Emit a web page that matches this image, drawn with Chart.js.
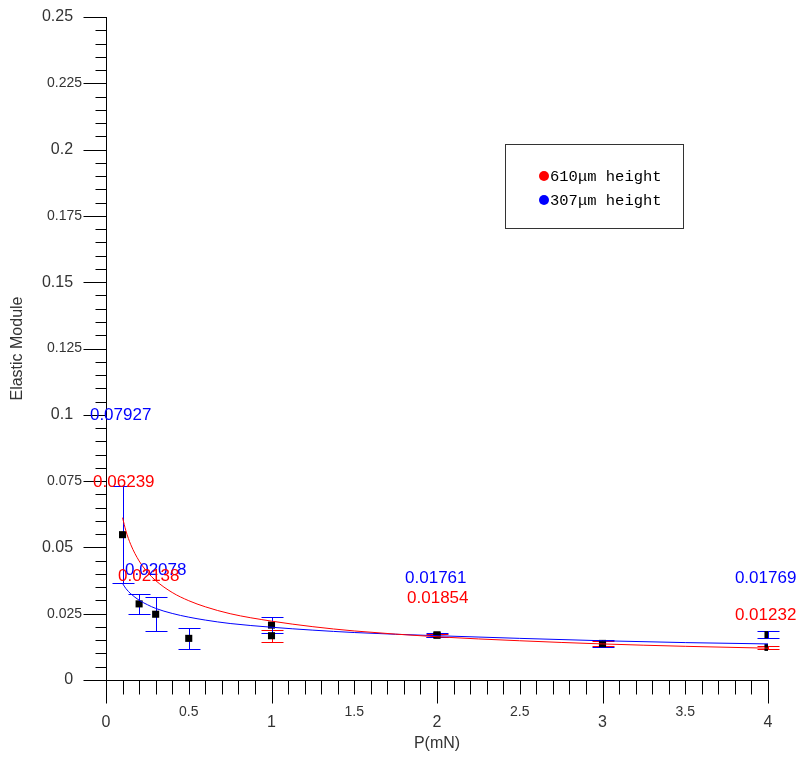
<!DOCTYPE html>
<html>
<head>
<meta charset="utf-8">
<script src="https://cdn.jsdelivr.net/npm/chart.js@4/dist/chart.umd.min.js"></script>
<style>
  html, body { margin: 0; padding: 0; background: #fff; }
  #wrap { width: 804px; height: 760px; }
</style>
</head>
<body>
<div id="wrap"><canvas id="myChart" width="804" height="760"></canvas></div>
<script>
// measured points, 307um series (blue error bars)
const blueX = [0.1, 0.2, 0.3, 0.5, 1, 2, 3, 4];
const blueY = [0.0548, 0.0287, 0.0248, 0.0157, 0.0207, 0.0170, 0.0138, 0.0171];
const blueErr = [0.0183, 0.0039, 0.0064, 0.0040, 0.0031, 0.0008, 0.0012, 0.0012];

// measured points, 610um series (red error bars)
const redX = [1, 2, 3, 4];
const redY = [0.0167, 0.0169, 0.0137, 0.0123];
const redErr = [0.0022, 0.0006, 0.0010, 0.0005];

// fitted curves
const fitX = [0.1, 0.12, 0.15, 0.2, 0.25, 0.3, 0.4, 0.5, 0.6, 0.75, 1, 1.25, 1.5, 2, 2.5, 3, 3.5, 4];
const redFit = [0.0612, 0.0563, 0.0510, 0.0449, 0.0407, 0.0375, 0.0330, 0.0299, 0.0276, 0.0250, 0.0222, 0.0201, 0.0185, 0.0163, 0.0148, 0.0136, 0.0127, 0.0120];
const blueFit = [0.0364, 0.0345, 0.0325, 0.0301, 0.0284, 0.0270, 0.0251, 0.0237, 0.0226, 0.0213, 0.0199, 0.0188, 0.0179, 0.0167, 0.0157, 0.0148, 0.0141, 0.0136];

// value labels written on the plot
const annText = ['0.07927', '0.06239', '0.02078', '0.02138', '0.01761', '0.01854', '0.01769', '0.01232'];
const annX = [-0.097, -0.078, 0.115, 0.073, 1.807, 1.819, 3.80, 3.80];
const annY = [0.0999, 0.0744, 0.0415, 0.0392, 0.0385, 0.0309, 0.0385, 0.0245];
const annSeries = ['blue', 'red', 'blue', 'red', 'blue', 'red', 'blue', 'red'];

const legendLabels = ['610\u03bcm height', '307\u03bcm height'];

const xTickValues = [0, 0.5, 1, 1.5, 2, 2.5, 3, 3.5, 4];
const xTickLabels = ['0', '0.5', '1', '1.5', '2', '2.5', '3', '3.5', '4'];
const yTickValues = [0, 0.025, 0.05, 0.075, 0.1, 0.125, 0.15, 0.175, 0.2, 0.225, 0.25];
const yTickLabels = ['0', '0.025', '0.05', '0.075', '0.1', '0.125', '0.15', '0.175', '0.2', '0.225', '0.25'];

const RED = '#ff0000';
const BLUE = '#0000ff';
const SANS = '"Liberation Sans", Arial, sans-serif';

const near = (a, b) => Math.abs(a - b) < 1e-6;
const isWhole = (v, step) => near(v / step, Math.round(v / step));

const pts = (xs, ys) => xs.map((x, i) => ({ x: x, y: ys[i] }));

// error bars, tick marks, value labels and legend box
const extras = {
  id: 'extras',
  beforeDatasetsDraw(chart) {
    const { ctx, scales: { x, y } } = chart;
    const bars = (xs, ys, errs, color) => {
      ctx.strokeStyle = color;
      ctx.lineWidth = 1;
      ctx.beginPath();
      xs.forEach((v, i) => {
        const px = Math.round(x.getPixelForValue(v)) + 0.5;
        const top = Math.round(y.getPixelForValue(ys[i] + errs[i])) + 0.5;
        const bot = Math.round(y.getPixelForValue(ys[i] - errs[i])) + 0.5;
        ctx.moveTo(px, top); ctx.lineTo(px, bot);
        ctx.moveTo(px - 11, top); ctx.lineTo(px + 11, top);
        ctx.moveTo(px - 11, bot); ctx.lineTo(px + 11, bot);
      });
      ctx.stroke();
    };
    ctx.save();
    bars(redX, redY, redErr, RED);
    bars(blueX, blueY, blueErr, BLUE);
    ctx.restore();
  },
  afterDraw(chart) {
    const { ctx, scales: { x, y } } = chart;
    ctx.save();
    ctx.strokeStyle = '#000';
    ctx.lineWidth = 1;
    ctx.beginPath();
    const by = Math.round(y.bottom) + 0.5;
    x.ticks.forEach(t => {
      const px = Math.round(x.getPixelForValue(t.value)) + 0.5;
      ctx.moveTo(px, by);
      ctx.lineTo(px, by + (isWhole(t.value, 1) ? 23 : 14));
    });
    const lx = Math.round(x.left) + 0.5;
    y.ticks.forEach(t => {
      const py = Math.round(y.getPixelForValue(t.value)) + 0.5;
      ctx.moveTo(lx, py);
      ctx.lineTo(lx - (isWhole(t.value, 0.025) ? 23 : 11), py);
    });
    ctx.stroke();

    ctx.font = '17px ' + SANS;
    ctx.textAlign = 'left';
    ctx.textBaseline = 'middle';
    annText.forEach((s, i) => {
      ctx.fillStyle = annSeries[i] === 'red' ? RED : BLUE;
      ctx.fillText(s, x.getPixelForValue(annX[i]), y.getPixelForValue(annY[i]));
    });

    // legend
    ctx.strokeStyle = '#333';
    ctx.strokeRect(505.5, 144.5, 178, 84);
    ctx.font = '15.5px "Liberation Mono", "Courier New", monospace';
    [RED, BLUE].forEach((c, i) => {
      const cy = 176 + i * 24;
      ctx.fillStyle = c;
      ctx.beginPath();
      ctx.arc(544, cy, 5, 0, Math.PI * 2);
      ctx.fill();
      ctx.fillStyle = '#000';
      ctx.fillText(legendLabels[i], 550, cy + 1);
    });
    ctx.restore();
  }
};

const xFont = c => {
  if (c.tick && !isWhole(c.tick.value, 1)) return { family: SANS, size: 14, lineHeight: '14px' };
  return { family: SANS, size: 16, lineHeight: '12px' };
};
const yFont = c => {
  if (c.tick && !isWhole(c.tick.value, 0.05)) return { family: SANS, size: 14 };
  return { family: SANS, size: 16 };
};

new Chart(document.getElementById('myChart'), {
  type: 'scatter',
  data: {
    datasets: [{
      label: 'red fit',
      data: pts(fitX, redFit),
      showLine: true,
      borderColor: RED,
      borderWidth: 1,
      pointRadius: 0,
      cubicInterpolationMode: 'monotone',
    }, {
      label: 'blue fit',
      data: pts(fitX, blueFit),
      showLine: true,
      borderColor: BLUE,
      borderWidth: 1,
      pointRadius: 0,
      cubicInterpolationMode: 'monotone',
    }, {
      label: '610um',
      data: pts(redX, redY),
      pointStyle: 'rect',
      pointRadius: 5,
      backgroundColor: '#000',
      borderColor: '#000',
      borderWidth: 0,
    }, {
      label: '307um',
      data: pts(blueX, blueY),
      pointStyle: 'rect',
      pointRadius: 5,
      backgroundColor: '#000',
      borderColor: '#000',
      borderWidth: 0,
    }],
  },
  options: {
    responsive: false,
    animation: false,
    devicePixelRatio: 1,
    layout: { padding: { top: 17, right: 36, left: 0, bottom: 0 } },
    plugins: { legend: { display: false }, tooltip: { enabled: false } },
    scales: {
      x: {
        type: 'linear',
        min: 0,
        max: 4,
        border: { color: '#000', width: 1 },
        grid: { display: true, drawOnChartArea: false, drawTicks: false },
        afterFit: s => { s.height = 80; s.paddingLeft = 0; s.paddingRight = 0; },
        ticks: {
          stepSize: 0.1,
          autoSkip: false,
          maxRotation: 0,
          padding: 25,
          color: '#333',
          font: xFont,
          callback: v => {
            const i = xTickValues.findIndex(t => near(t, v));
            if (i < 0) return '';
            return isWhole(v, 1) ? ['', xTickLabels[i]] : xTickLabels[i];
          },
        },
        title: {
          display: true,
          text: 'P(mN)',
          color: '#333',
          font: { family: SANS, size: 16 },
          padding: { top: 0, bottom: 7 },
        },
      },
      y: {
        type: 'linear',
        min: 0,
        max: 0.25,
        border: { color: '#000', width: 1 },
        grid: { display: true, drawOnChartArea: false, drawTicks: false },
        afterFit: s => { s.width = 106; s.paddingTop = 0; s.paddingBottom = 0; },
        ticks: {
          stepSize: 0.005,
          autoSkip: false,
          padding: 24,
          color: '#333',
          font: yFont,
          callback: v => {
            const i = yTickValues.findIndex(t => near(t, v));
            if (i < 0) return '';
            return isWhole(v, 0.05) ? yTickLabels[i] + '  ' : yTickLabels[i];
          },
        },
        title: {
          display: true,
          text: 'Elastic Module',
          color: '#333',
          font: { family: SANS, size: 16 },
          padding: { top: 8, bottom: 0 },
        },
      },
    },
  },
  plugins: [extras],
});
</script>
</body>
</html>
